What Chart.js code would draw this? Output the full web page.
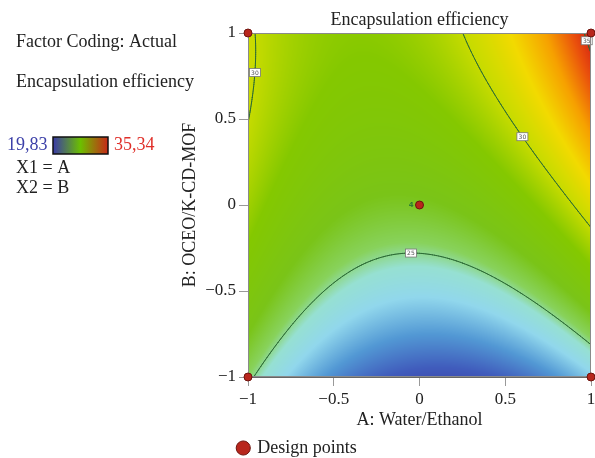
<!DOCTYPE html>
<html>
<head>
<meta charset="utf-8">
<script src="https://cdn.jsdelivr.net/npm/chart.js@4.4.1/dist/chart.umd.min.js"></script>
<style>
  html, body { margin: 0; padding: 0; background: #fff; }
  #wrap { width: 595px; height: 458px; }
</style>
</head>
<body>
<div id="wrap"><canvas id="contourChart" width="595" height="458"></canvas></div>
<script>
// coded factor levels shown on both axes
const axisTicks = [-1, -0.5, 0, 0.5, 1];

// design points (coded A, coded B) and replicate counts
const designA = [-1, 1, -1, 1, 0];
const designB = [-1, -1, 1, 1, 0];
const designReps = [1, 1, 1, 1, 4];

// quadratic model: Intercept, A, B, AB, A^2, B^2
const modelCoefs = [26.30, 0.83, 4.23, 1.77, 3.68, -1.42];

// contour levels and colour scale range
const contourLevels = [25, 30, 35];
const colorRange = [19.83, 35.34];
const colorRangeLabels = ['19,83', '35,34'];

const serif = '"Liberation Serif", "Times New Roman", serif';

// colour ramp (fraction of colour range -> rgb)
const ramp = [
  [0.000, [58, 60, 165]],
  [0.075, [64, 92, 188]],
  [0.160, [82, 152, 212]],
  [0.245, [145, 215, 236]],
  [0.308, [150, 224, 210]],
  [0.353, [136, 210, 92]],
  [0.430, [122, 196, 24]],
  [0.560, [132, 200, 0]],
  [0.656, [198, 219, 0]],
  [0.753, [242, 218, 0]],
  [0.850, [246, 160, 0]],
  [0.934, [234, 82, 12]],
  [1.000, [212, 32, 20]]
];

function response(a, b) {
  const c = modelCoefs;
  return c[0] + c[1] * a + c[2] * b + c[3] * a * b + c[4] * a * a + c[5] * b * b;
}

function colorFor(v) {
  let t = (v - colorRange[0]) / (colorRange[1] - colorRange[0]);
  t = Math.max(0, Math.min(1, t));
  for (let k = 1; k < ramp.length; k++) {
    if (t <= ramp[k][0]) {
      const [t0, c0] = ramp[k - 1];
      const [t1, c1] = ramp[k];
      const f = (t - t0) / (t1 - t0);
      return [0, 1, 2].map(i => c0[i] + (c1[i] - c0[i]) * f);
    }
  }
  return ramp[ramp.length - 1][1];
}

function fmt(v) {
  return v < 0 ? '\u2212' + Math.abs(v) : String(v);
}

// where the contour labels sit: search along a short segment for the level
const labelSpots = [
  { level: 30, from: [-1, 0.77], to: [-0.8, 0.77] },
  { level: 30, from: [0.6, 0], to: [0.6, 1] },
  { level: 35, from: [0.975, 0.8], to: [0.975, 1] },
  { level: 25, from: [-0.05, -0.6], to: [-0.05, 0] }
];

function findOnSegment(spot) {
  let lo = 0, hi = 1;
  const at = s => [spot.from[0] + (spot.to[0] - spot.from[0]) * s,
                   spot.from[1] + (spot.to[1] - spot.from[1]) * s];
  const sLo = Math.sign(response(...at(lo)) - spot.level);
  for (let k = 0; k < 40; k++) {
    const mid = (lo + hi) / 2;
    if (Math.sign(response(...at(mid)) - spot.level) === sLo) lo = mid; else hi = mid;
  }
  return at((lo + hi) / 2);
}

const surfacePlugin = {
  id: 'surface',
  beforeDatasetsDraw(chart) {
    const { ctx, chartArea: area, scales: { x, y } } = chart;
    const left = Math.round(area.left), top = Math.round(area.top);
    const w = Math.round(area.right) - left, h = Math.round(area.bottom) - top;

    // filled response surface
    const img = ctx.createImageData(w, h);
    for (let j = 0; j < h; j++) {
      const b = y.getValueForPixel(top + j + 0.5);
      for (let i = 0; i < w; i++) {
        const a = x.getValueForPixel(left + i + 0.5);
        const col = colorFor(response(a, b));
        const k = (j * w + i) * 4;
        img.data[k] = col[0];
        img.data[k + 1] = col[1];
        img.data[k + 2] = col[2];
        img.data[k + 3] = 255;
      }
    }
    ctx.putImageData(img, left, top);

    // contour lines (marching squares on the model)
    const n = 160;
    const vals = [];
    for (let j = 0; j <= n; j++) {
      const row = [];
      for (let i = 0; i <= n; i++) row.push(response(-1 + 2 * i / n, -1 + 2 * j / n));
      vals.push(row);
    }
    ctx.save();
    ctx.beginPath();
    ctx.rect(area.left, area.top, area.right - area.left, area.bottom - area.top);
    ctx.clip();
    ctx.strokeStyle = '#2c6b35';
    ctx.lineWidth = 1;
    ctx.lineCap = 'round';
    contourLevels.forEach(level => {
      ctx.beginPath();
      for (let j = 0; j < n; j++) {
        for (let i = 0; i < n; i++) {
          const a0 = -1 + 2 * i / n, a1 = -1 + 2 * (i + 1) / n;
          const b0 = -1 + 2 * j / n, b1 = -1 + 2 * (j + 1) / n;
          const c = [
            [a0, b0, vals[j][i]], [a1, b0, vals[j][i + 1]],
            [a1, b1, vals[j + 1][i + 1]], [a0, b1, vals[j + 1][i]]
          ];
          const pts = [];
          for (let e = 0; e < 4; e++) {
            const p = c[e], q = c[(e + 1) % 4];
            if ((p[2] - level) * (q[2] - level) < 0) {
              const f = (level - p[2]) / (q[2] - p[2]);
              pts.push([p[0] + (q[0] - p[0]) * f, p[1] + (q[1] - p[1]) * f]);
            }
          }
          for (let s = 0; s + 1 < pts.length; s += 2) {
            ctx.moveTo(x.getPixelForValue(pts[s][0]), y.getPixelForValue(pts[s][1]));
            ctx.lineTo(x.getPixelForValue(pts[s + 1][0]), y.getPixelForValue(pts[s + 1][1]));
          }
        }
      }
      ctx.stroke();
    });
    ctx.restore();

    // contour value tags
    ctx.save();
    labelSpots.forEach(spot => {
      const [a, b] = findOnSegment(spot);
      const px = x.getPixelForValue(a), py = y.getPixelForValue(b);
      ctx.fillStyle = '#fff';
      ctx.fillRect(px - 5.5, py - 4, 11, 8);
      ctx.strokeStyle = '#777';
      ctx.lineWidth = 0.8;
      ctx.strokeRect(px - 5.5, py - 4, 11, 8);
      ctx.fillStyle = '#555';
      ctx.font = '6px "DejaVu Sans", sans-serif';
      ctx.textAlign = 'center';
      ctx.textBaseline = 'middle';
      ctx.fillText(String(spot.level), px, py + 0.5);
    });
    ctx.restore();

    // plot frame
    ctx.save();
    ctx.strokeStyle = '#8a8a8a';
    ctx.lineWidth = 1;
    ctx.strokeRect(area.left + 0.5, area.top + 0.5, area.right - area.left - 1, area.bottom - area.top - 1);
    ctx.restore();
  },
  afterDatasetsDraw(chart) {
    const { ctx, scales: { x, y } } = chart;
    ctx.save();
    ctx.fillStyle = '#2e7d32';
    ctx.font = 'bold 7px "DejaVu Sans", sans-serif';
    ctx.textAlign = 'right';
    ctx.textBaseline = 'middle';
    designReps.forEach((r, i) => {
      if (r > 1) {
        ctx.fillText(String(r), x.getPixelForValue(designA[i]) - 6, y.getPixelForValue(designB[i]));
      }
    });
    ctx.restore();
  },
  afterDraw(chart) {
    const { ctx, chartArea: area } = chart;
    ctx.save();
    ctx.fillStyle = '#222';
    ctx.font = '18px ' + serif;
    ctx.textBaseline = 'alphabetic';
    ctx.textAlign = 'center';
    ctx.fillText('Encapsulation efficiency', (area.left + area.right) / 2, 25);

    ctx.textAlign = 'left';
    ctx.fillText('Factor Coding: Actual', 16, 47);
    ctx.fillText('Encapsulation efficiency', 16, 87);
    ctx.fillText('X1 = A', 16, 173);
    ctx.fillText('X2 = B', 16, 193);

    ctx.fillStyle = '#3b3fa8';
    ctx.fillText(colorRangeLabels[0], 7, 150);
    ctx.fillStyle = '#e0302a';
    ctx.fillText(colorRangeLabels[1], 114, 150);

    const grad = ctx.createLinearGradient(53, 0, 108, 0);
    grad.addColorStop(0, '#3a3aa8');
    grad.addColorStop(0.5, '#6cbf00');
    grad.addColorStop(1, '#c82818');
    ctx.fillStyle = grad;
    ctx.fillRect(53, 137, 55, 17);
    ctx.strokeStyle = '#111';
    ctx.lineWidth = 1.5;
    ctx.strokeRect(53, 137, 55, 17);
    ctx.restore();
  }
};

const tickFont = { family: serif, size: 17 };
const labelFont = { family: serif, size: 18 };

new Chart(document.getElementById('contourChart'), {
  type: 'scatter',
  data: {
    datasets: [{
      label: 'Design points',
      data: designA.map((a, i) => ({ x: a, y: designB[i] })),
      backgroundColor: '#b8261c',
      borderColor: '#6e140e',
      borderWidth: 1,
      pointRadius: 4,
      clip: false
    }]
  },
  options: {
    responsive: false,
    animation: false,
    layout: { autoPadding: false, padding: { left: 0, right: 0, top: 33, bottom: -9 } },
    plugins: {
      legend: {
        position: 'bottom',
        labels: {
          usePointStyle: true,
          boxWidth: 10,
          boxHeight: 10,
          padding: 0,
          color: '#222',
          font: labelFont
        }
      },
      tooltip: { enabled: false },
      title: { display: false }
    },
    scales: {
      x: {
        type: 'linear',
        min: -1,
        max: 1,
        afterBuildTicks: s => { s.ticks = axisTicks.map(v => ({ value: v })); },
        afterFit: s => { s.height = 62; s.paddingRight = 4; s.paddingLeft = 0; },
        ticks: { callback: v => fmt(v), color: '#222', font: tickFont, padding: 3, maxRotation: 0 },
        grid: { drawOnChartArea: false, tickLength: 9, color: '#999' },
        border: { color: '#666' },
        title: { display: true, text: 'A: Water/Ethanol', color: '#222', font: labelFont, padding: { top: 0, bottom: 8 } }
      },
      y: {
        type: 'linear',
        min: -1,
        max: 1,
        afterBuildTicks: s => { s.ticks = axisTicks.map(v => ({ value: v })); },
        afterFit: s => { s.width = 248; },
        ticks: { callback: v => fmt(v), color: '#222', font: tickFont, padding: 3 },
        grid: { drawOnChartArea: false, tickLength: 9, color: '#999' },
        border: { color: '#666' },
        title: { display: true, text: 'B: OCEO/K-CD-MOF', color: '#222', font: labelFont, padding: { top: 179, bottom: 0 } }
      }
    }
  },
  plugins: [surfacePlugin]
});
</script>
</body>
</html>
